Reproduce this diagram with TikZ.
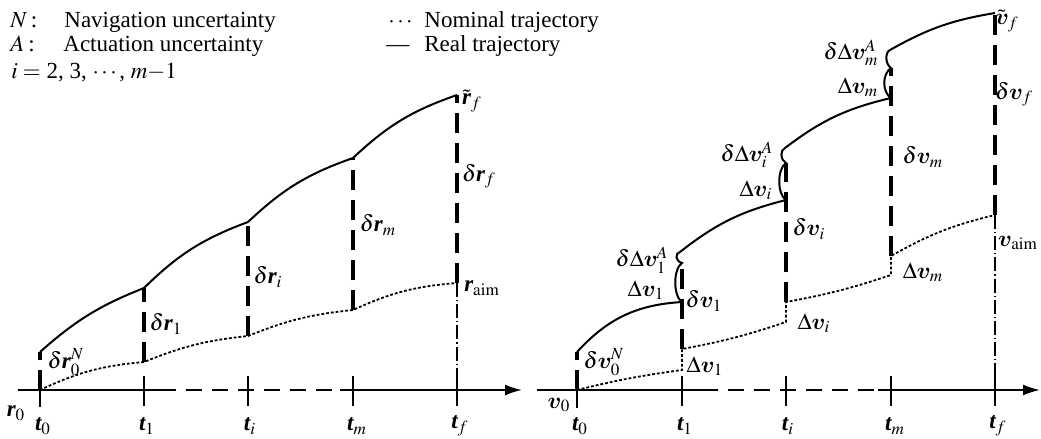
\documentclass[tikz,border=0pt]{standalone}
\usepackage{mathptmx}
\usepackage{amsmath}
\usepackage{fontspec}
\setmainfont{Liberation Serif}
\usetikzlibrary{arrows.meta}

\font\vfont=cmmib10 at 11.5pt
\newcommand{\bmr}{\mbox{\bfseries\itshape r}}
\newcommand{\bmv}{\mbox{\vfont v}}
\newcommand{\bmt}{\mbox{\bfseries\itshape t}}

\begin{document}
\begin{tikzpicture}[
  x=0.5pt, y=-0.5pt,
  font=\fontsize{11.5}{13}\selectfont,
  real/.style={line width=1pt},
  nomi/.style={line width=0.9pt, dash pattern=on 1.4pt off 1pt},
  dev/.style={line width=1.8pt, dash pattern=on 10pt off 5pt},
  axis/.style={line width=0.9pt},
  axdash/.style={axis, dash pattern=on 8pt off 5pt},
  tk/.style={line width=0.9pt},
  aimline/.style={line width=0.6pt, dash pattern=on 7pt off 1.5pt on 0.6pt off 1.5pt},
  lbl/.style={inner sep=0pt},
]
\useasboundingbox (0,0) rectangle (1041,439);

% legend
\node[lbl, anchor=base west] (symN) at (10,27) {$N$\,:};
\node[lbl, anchor=base west] (txtN) at (64,27) {Navigation uncertainty};
\node[lbl, anchor=base west] (symA) at (10,52) {$A$\,:};
\node[lbl, anchor=base west] (txtA) at (63,52) {Actuation uncertainty};
\node[lbl, anchor=base west] (idx)  at (11,78) {$i =$\ 2, 3, $\cdots$, $m{-}1$};
\node[lbl, anchor=base west] (symnom)  at (388,27) {$\cdots$};
\node[lbl, anchor=base west] (txtnom)  at (424,27) {Nominal trajectory};
\node[lbl, anchor=base west] (symreal) at (386,52) {---};
\node[lbl, anchor=base west] (txtreal) at (424,52) {Real trajectory};

% ---------------- position (left) ----------------
\coordinate (lt0) at (40,390);
\coordinate (lt1) at (144,390);
\coordinate (lti) at (248,390);
\coordinate (ltm) at (353,390);
\coordinate (ltf) at (457,390);
\coordinate (lax0) at (18,390);
\coordinate (lax1) at (160,390);
\coordinate (lax2) at (340,390);
\coordinate (lax3) at (522,390);

\coordinate (ln1) at (144,362);
\coordinate (ln2) at (248,336);
\coordinate (ln3) at (353,310);
\coordinate (ln4) at (457,283);

\coordinate (lr0) at (40,352);
\coordinate (lr1) at (144,288);
\coordinate (lr2) at (248,222);
\coordinate (lr3) at (353,158);
\coordinate (lr4) at (457,95);

\draw[axis] (lax0) -- (lax1);
\draw[axdash] (lax1) -- (lax2);
\draw[axis, -{Latex[length=8.5pt,width=5.5pt]}] (lax2) -- (lax3);

\draw[tk] (lt0) ++(0,-15) -- ++(0,32);
\draw[tk] (lt1) ++(0,-14) -- ++(0,30);
\draw[tk] (lti) ++(0,-14) -- ++(0,30);
\draw[tk] (ltm) ++(0,-14) -- ++(0,30);
\draw[tk] (ltf) ++(0,-14) -- ++(0,30);

\draw[nomi] (lt0) to[bend left=10] (ln1) to[bend left=8] (ln2)
            to[bend left=8] (ln3) to[bend left=10] (ln4);
\draw[real] (lr0) to[bend left=10] (lr1) to[bend left=12] (lr2)
            to[bend left=12] (lr3) to[bend left=12] (lr4);

\draw[dev] (lt0) -- (lr0);
\draw[dev] (ln1) -- (lr1);
\draw[dev] (ln2) -- (lr2);
\draw[dev] (ln3) -- (lr3);
\draw[dev] (ln4) -- (lr4);
\draw[aimline] (ln4) -- (ltf);

\node[lbl] (Lr0)  at (16,413)  {$\bmr_0$};
\node[lbl] (Lt0)  at (43,426)  {$\bmt_0$};
\node[lbl] (Lt1)  at (147,426) {$\bmt_1$};
\node[lbl] (Lti)  at (250,426) {$\bmt_i$};
\node[lbl] (Ltm)  at (357,426) {$\bmt_m$};
\node[lbl] (Ltf)  at (460,426) {$\bmt_f$};

\node[lbl] (Ldr0) at (66,362)  {$\delta\bmr_0^N$};
\node[lbl] (Ldr1) at (166,324) {$\delta\bmr_1$};
\node[lbl] (Ldri) at (268,277) {$\delta\bmr_i$};
\node[lbl] (Ldrm) at (378,225) {$\delta\bmr_m$};
\node[lbl] (Ldrf) at (479,176) {$\delta\bmr_f$};
\node[lbl] (Lraim) at (482,288) {$\bmr_{\mathrm{aim}}$};
\node[lbl] (Lrf)  at (472,101) {$\tilde{\bmr}_f$};

% ---------------- velocity (right) ----------------
\coordinate (rt0) at (577,390);
\coordinate (rt1) at (682,390);
\coordinate (rti) at (786,390);
\coordinate (rtm) at (891,390);
\coordinate (rtf) at (995,390);
\coordinate (rax0) at (537,390);
\coordinate (rax1) at (702,390);
\coordinate (rax2) at (878,390);
\coordinate (rax3) at (1040,390);

\coordinate (vn1)  at (682,370);
\coordinate (vn1p) at (682,349);
\coordinate (vn2)  at (786,322);
\coordinate (vn2p) at (786,302);
\coordinate (vn3)  at (891,275);
\coordinate (vn3p) at (891,256);
\coordinate (vn4)  at (995,215);

\coordinate (vr0)  at (577,352);
\coordinate (vr1)  at (682,302);
\coordinate (vr1a) at (682,263);
\coordinate (vr1b) at (680,252);
\coordinate (vr2)  at (786,200);
\coordinate (vr2a) at (786,163);
\coordinate (vr2b) at (785,148);
\coordinate (vr3)  at (891,98);
\coordinate (vr3a) at (891,68);
\coordinate (vr3b) at (890,50);
\coordinate (vr4)  at (995,13);

\draw[axis] (rax0) -- (rax1);
\draw[axdash] (rax1) -- (rax2);
\draw[axis, -{Latex[length=8.5pt,width=5.5pt]}] (rax2) -- (rax3);

\draw[tk] (rt0) ++(0,-20) -- ++(0,38);
\draw[tk] (rt1) ++(0,-14) -- ++(0,30);
\draw[tk] (rti) ++(0,-14) -- ++(0,30);
\draw[tk] (rtm) ++(0,-14) -- ++(0,30);
\draw[tk] (rtf) ++(0,-14) -- ++(0,30);

\draw[nomi] (rt0) to[bend left=3] (vn1) -- (vn1p) to[bend right=4] (vn2)
            -- (vn2p) to[bend right=4] (vn3) -- (vn3p) to[bend left=8] (vn4);
\draw[real] (vr0) to[bend left=22] (vr1)
            .. controls (673,296) and (673,269) .. (vr1a)
            .. controls (675,261) and (675,253) .. (vr1b)
            to[bend left=12] (vr2)
            .. controls (777,194) and (777,169) .. (vr2a)
            .. controls (780,160) and (780,150) .. (vr2b)
            to[bend left=12] (vr3)
            .. controls (882,92) and (882,74) .. (vr3a)
            .. controls (885,64) and (885,52) .. (vr3b)
            to[bend left=10] (vr4);

\draw[dev] (rt0) -- (vr0);
\draw[dev] (vn1p) -- (vr1a);
\draw[dev] (vn2p) -- (vr2a);
\draw[dev] (vn3p) -- (vr3a);
\draw[dev] (vn4) -- (vr4);
\draw[aimline] (vn4) -- (rtf);

\node[lbl] (Lv0)  at (559,405) {$\bmv_0$};
\node[lbl] (Rt0)  at (580,426) {$\bmt_0$};
\node[lbl] (Rt1)  at (685,426) {$\bmt_1$};
\node[lbl] (Rti)  at (788,426) {$\bmt_i$};
\node[lbl] (Rtm)  at (895,426) {$\bmt_m$};
\node[lbl] (Rtf)  at (998,426) {$\bmt_f$};

\node[lbl] (Ldv0) at (604,362) {$\delta\bmv_0^N$};
\node[lbl] (LDv1n) at (705,366) {$\Delta\bmv_1$};
\node[lbl] (Ldv1) at (704,301) {$\delta\bmv_1$};
\node[lbl] (LDv1) at (646,290) {$\Delta\bmv_1$};
\node[lbl] (LdDv1) at (642,260) {$\delta\Delta\bmv_1^A$};
\node[lbl] (Ldvi) at (809,229) {$\delta\bmv_i$};
\node[lbl] (LDvin) at (814,323) {$\Delta\bmv_i$};
\node[lbl] (LDvi) at (756,190) {$\Delta\bmv_i$};
\node[lbl] (LdDvi) at (747,155) {$\delta\Delta\bmv_i^A$};
\node[lbl] (Ldvm) at (923,157) {$\delta\bmv_m$};
\node[lbl] (LDvmn) at (923,272) {$\Delta\bmv_m$};
\node[lbl] (LDvm) at (858,87)  {$\Delta\bmv_m$};
\node[lbl] (LdDvm) at (851,53) {$\delta\Delta\bmv_m^A$};
\node[lbl] (Lvf)  at (1007,21) {$\tilde{\bmv}_f$};
\node[lbl] (Ldvf) at (1014,94) {$\delta\bmv_f$};
\node[lbl] (Lvaim) at (1018,243) {$\bmv_{\mathrm{aim}}$};

\end{tikzpicture}
\end{document}
